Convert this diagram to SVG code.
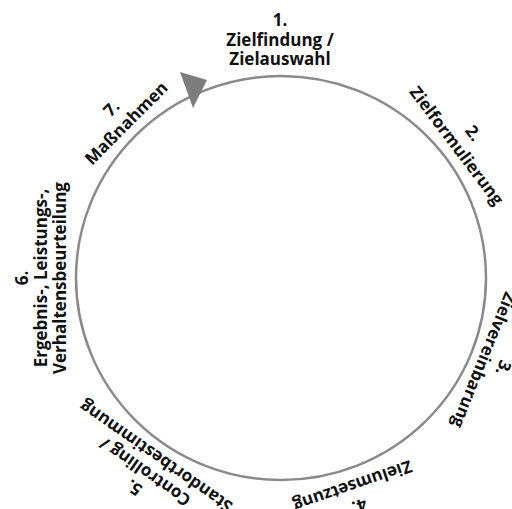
<svg xmlns="http://www.w3.org/2000/svg" width="512" height="509" viewBox="0 0 512 509">
  <style>
    .lbl { font-family: "Open Sans", "Noto Sans", "DejaVu Sans", sans-serif; font-size: 17px; font-weight: 700; fill: #111; text-anchor: middle; }
    .ring { fill: none; stroke: #8a8a8a; stroke-width: 2.5; }
    .head { fill: #7d7d7d; }
  </style>
  <rect width="512" height="509" fill="#fff"/>

  <!-- cycle ring with direction arrow -->
  <g id="connectors">
    <ellipse class="ring" cx="281" cy="278" rx="205" ry="202"/>
    <polygon class="head" points="180,72 207,80 193,108"/>
  </g>

  <!-- steps placed around the ring -->
  <g id="step1">
    <text class="lbl" x="280" y="26">1.</text>
    <text class="lbl" x="280" y="45.5">Zielfindung /</text>
    <text class="lbl" x="280" y="65">Zielauswahl</text>
  </g>
  <g id="step2" transform="rotate(53 281 278)">
    <text class="lbl" x="281" y="43">2.</text>
    <text class="lbl" x="281" y="64">Zielformulierung</text>
  </g>
  <g id="step3" transform="rotate(112 281 278)">
    <text class="lbl" x="281" y="44">3.</text>
    <text class="lbl" x="281" y="65">Zielvereinbarung</text>
  </g>
  <g id="step4" transform="rotate(161 281 278)">
    <text class="lbl" x="281" y="43">4.</text>
    <text class="lbl" x="281" y="64">Zielumsetzung</text>
  </g>
  <g id="step5" transform="rotate(215 281 278)">
    <text class="lbl" x="281" y="28">5.</text>
    <text class="lbl" x="281" y="47">Controlling /</text>
    <text class="lbl" x="281" y="66">Standortbestimmung</text>
  </g>
  <g id="step6" transform="rotate(270 281 278)">
    <text class="lbl" x="281" y="25">6.</text>
    <text class="lbl" x="281" y="44">Ergebnis-, Leistungs-,</text>
    <text class="lbl" x="281" y="63">Verhaltensbeurteilung</text>
  </g>
  <g id="step7" transform="rotate(315 281 278)">
    <text class="lbl" x="281" y="44">7.</text>
    <text class="lbl" x="281" y="65">Maßnahmen</text>
  </g>
</svg>
